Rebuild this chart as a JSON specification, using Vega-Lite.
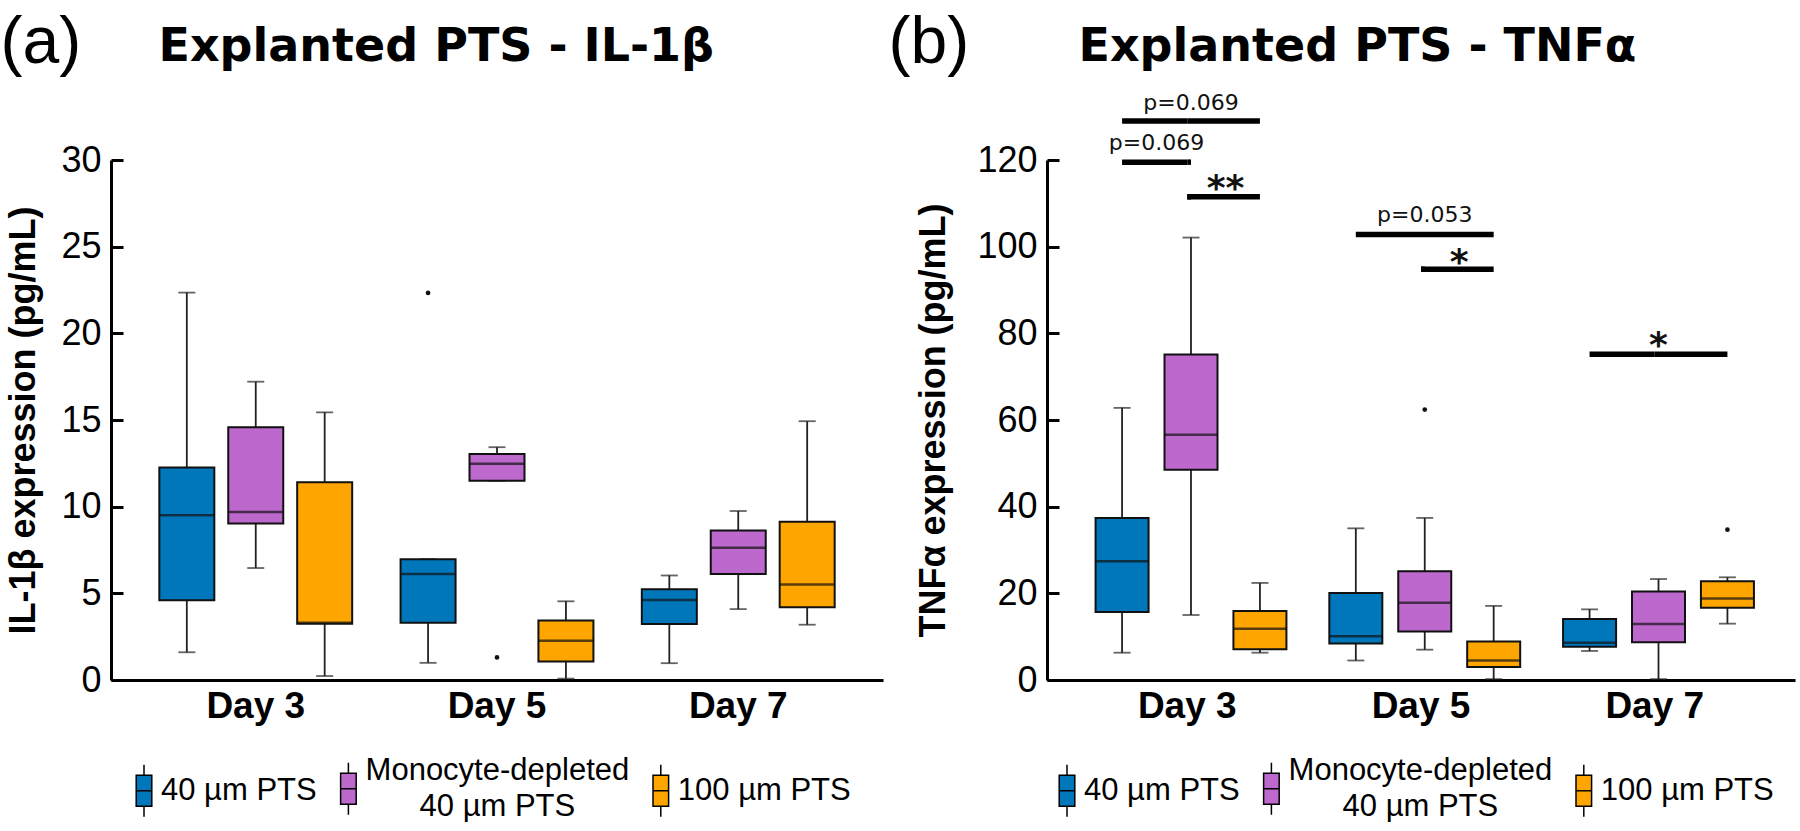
{
  "$schema": "https://vega.github.io/schema/vega-lite/v6.json",
  "background": "white",
  "padding": {"left": 0, "top": 9, "right": 5, "bottom": 0},
  "bounds": "flush",
  "spacing": 164,
  "config": {"view": {"stroke": null}, "font": "Liberation Sans", "axis": {"grid": false, "labelOverlap": false}},
  "resolve": {"scale": {"fill": "independent"}, "legend": {"fill": "independent"}},
  "datasets": {
    "boxA": [
      {"day": "Day 3", "group": "40 µm PTS", "lo": 1.6, "q1": 4.6, "med": 9.5, "q3": 12.26, "hi": 22.35},
      {"day": "Day 3", "group": "Monocyte-depleted 40 µm PTS", "lo": 6.46, "q1": 9.03, "med": 9.69, "q3": 14.58, "hi": 17.21},
      {"day": "Day 3", "group": "100 µm PTS", "lo": 0.23, "q1": 3.25, "med": 3.3, "q3": 11.41, "hi": 15.44},
      {"day": "Day 5", "group": "40 µm PTS", "lo": 0.99, "q1": 3.31, "med": 6.11, "q3": 6.97, "hi": 6.97},
      {"day": "Day 5", "group": "Monocyte-depleted 40 µm PTS", "lo": 11.49, "q1": 11.49, "med": 12.48, "q3": 13.04, "hi": 13.43},
      {"day": "Day 5", "group": "100 µm PTS", "lo": 0.08, "q1": 1.07, "med": 2.26, "q3": 3.43, "hi": 4.54},
      {"day": "Day 7", "group": "40 µm PTS", "lo": 0.97, "q1": 3.23, "med": 4.61, "q3": 5.24, "hi": 6.03},
      {"day": "Day 7", "group": "Monocyte-depleted 40 µm PTS", "lo": 4.09, "q1": 6.11, "med": 7.63, "q3": 8.62, "hi": 9.75},
      {"day": "Day 7", "group": "100 µm PTS", "lo": 3.19, "q1": 4.19, "med": 5.51, "q3": 9.13, "hi": 14.93}
    ],
    "outA": [
      {"day": "Day 5", "group": "40 µm PTS", "value": 22.33},
      {"day": "Day 5", "group": "Monocyte-depleted 40 µm PTS", "value": 1.3}
    ],
    "boxB": [
      {"day": "Day 3", "group": "40 µm PTS", "lo": 6.3, "q1": 15.7, "med": 27.4, "q3": 37.4, "hi": 62.8},
      {"day": "Day 3", "group": "Monocyte-depleted 40 µm PTS", "lo": 15.0, "q1": 48.5, "med": 56.6, "q3": 75.1, "hi": 102.1},
      {"day": "Day 3", "group": "100 µm PTS", "lo": 6.3, "q1": 7.1, "med": 11.8, "q3": 15.9, "hi": 22.4},
      {"day": "Day 5", "group": "40 µm PTS", "lo": 4.5, "q1": 8.4, "med": 10.1, "q3": 20.1, "hi": 35.0},
      {"day": "Day 5", "group": "Monocyte-depleted 40 µm PTS", "lo": 7.0, "q1": 11.2, "med": 17.8, "q3": 25.1, "hi": 37.4},
      {"day": "Day 5", "group": "100 µm PTS", "lo": 0.2, "q1": 3.0, "med": 4.5, "q3": 8.9, "hi": 17.1},
      {"day": "Day 7", "group": "40 µm PTS", "lo": 6.7, "q1": 7.7, "med": 8.6, "q3": 14.1, "hi": 16.3},
      {"day": "Day 7", "group": "Monocyte-depleted 40 µm PTS", "lo": 0.2, "q1": 8.7, "med": 12.9, "q3": 20.4, "hi": 23.3},
      {"day": "Day 7", "group": "100 µm PTS", "lo": 13.0, "q1": 16.7, "med": 18.8, "q3": 22.8, "hi": 23.7}
    ],
    "outB": [
      {"day": "Day 5", "group": "Monocyte-depleted 40 µm PTS", "value": 62.4},
      {"day": "Day 7", "group": "100 µm PTS", "value": 34.7}
    ],
    "annB": [
      {"day": "Day 3", "from": "40 µm PTS", "to": "100 µm PTS", "yv": 129.0, "label": "p=0.069", "pos": "Monocyte-depleted 40 µm PTS", "ty": 131.6, "kind": "p"},
      {"day": "Day 3", "from": "40 µm PTS", "to": "Monocyte-depleted 40 µm PTS", "yv": 119.5, "label": "p=0.069", "pos": "40 vs MD", "ty": 122.3, "kind": "p"},
      {"day": "Day 3", "from": "Monocyte-depleted 40 µm PTS", "to": "100 µm PTS", "yv": 111.5, "label": "**", "pos": "MD vs 100", "ty": 110.8, "kind": "star"},
      {"day": "Day 5", "from": "40 µm PTS", "to": "100 µm PTS", "yv": 102.8, "label": "p=0.053", "pos": "Monocyte-depleted 40 µm PTS", "ty": 105.8, "kind": "p"},
      {"day": "Day 5", "from": "Monocyte-depleted 40 µm PTS", "to": "100 µm PTS", "yv": 94.8, "label": "*", "pos": "MD vs 100", "ty": 93.8, "kind": "star"},
      {"day": "Day 7", "from": "40 µm PTS", "to": "100 µm PTS", "yv": 75.2, "label": "*", "pos": "Monocyte-depleted 40 µm PTS", "ty": 74.5, "kind": "star"}
    ]
  },
  "hconcat": [
    {
      "width": 772,
      "height": 520,
      "layer": [
        {
          "data": {"name": "boxA"},
          "mark": {"type": "rule", "stroke": "#222", "strokeWidth": 1.8},
          "encoding": {
            "x": {"field": "day", "type": "nominal", "scale": {"paddingInner": 0, "paddingOuter": 0.1},
              "axis": {"orient": "bottom", "title": null, "ticks": false, "domainColor": "black", "domainWidth": 3, "labelFont": "Liberation Sans", "labelFontSize": 37, "labelFontWeight": "bold", "labelColor": "black", "labelPadding": 8, "labelAngle": 0}},
            "xOffset": {"field": "group", "type": "nominal", "scale": {"domain": ["40 µm PTS", "40 vs MD", "Monocyte-depleted 40 µm PTS", "MD vs 100", "100 µm PTS"], "paddingInner": 0, "paddingOuter": 1.5}},
            "y": {"field": "lo", "type": "quantitative", "scale": {"domain": [0, 30], "nice": false},
              "axis": {"orient": "left", "title": "IL-1β expression (pg/mL)", "values": [0, 5, 10, 15, 20, 25, 30], "domainColor": "black", "domainWidth": 3, "tickColor": "black", "tickWidth": 3, "tickSize": -12, "labelPadding": 22, "labelFont": "Liberation Sans", "labelFontSize": 36, "labelColor": "black", "titleFont": "Liberation Sans", "titleFontSize": 36, "titleFontWeight": "bold", "titleColor": "black", "titlePadding": 18}},
            "y2": {"field": "hi"}
          }
        },
        {
          "data": {"name": "boxA"},
          "mark": {"type": "tick", "orient": "horizontal", "color": "#222", "size": 17, "thickness": 1.8},
          "encoding": {
            "x": {"field": "day", "type": "nominal", "scale": {"paddingInner": 0, "paddingOuter": 0.1}, "axis": null},
            "xOffset": {"field": "group", "type": "nominal", "scale": {"domain": ["40 µm PTS", "40 vs MD", "Monocyte-depleted 40 µm PTS", "MD vs 100", "100 µm PTS"], "paddingInner": 0, "paddingOuter": 1.5}},
            "y": {"field": "lo", "type": "quantitative", "scale": {"domain": [0, 30], "nice": false}, "axis": null}
          }
        },
        {
          "data": {"name": "boxA"},
          "mark": {"type": "tick", "orient": "horizontal", "color": "#222", "size": 17, "thickness": 1.8},
          "encoding": {
            "x": {"field": "day", "type": "nominal", "scale": {"paddingInner": 0, "paddingOuter": 0.1}, "axis": null},
            "xOffset": {"field": "group", "type": "nominal", "scale": {"domain": ["40 µm PTS", "40 vs MD", "Monocyte-depleted 40 µm PTS", "MD vs 100", "100 µm PTS"], "paddingInner": 0, "paddingOuter": 1.5}},
            "y": {"field": "hi", "type": "quantitative", "scale": {"domain": [0, 30], "nice": false}, "axis": null}
          }
        },
        {
          "data": {"name": "boxA"},
          "mark": {"type": "bar", "width": 55, "stroke": "#111", "strokeWidth": 2},
          "encoding": {
            "x": {"field": "day", "type": "nominal", "scale": {"paddingInner": 0, "paddingOuter": 0.1},
              "axis": {"orient": "top", "title": "Explanted PTS - IL-1β", "labels": false, "ticks": false, "domain": false, "titleX": 47, "titleY": -100, "titleAlign": "left", "titleBaseline": "alphabetic", "titleFont": "DejaVu Sans", "titleFontSize": 46, "titleFontWeight": "bold", "titleColor": "black"}},
            "xOffset": {"field": "group", "type": "nominal", "scale": {"domain": ["40 µm PTS", "40 vs MD", "Monocyte-depleted 40 µm PTS", "MD vs 100", "100 µm PTS"], "paddingInner": 0, "paddingOuter": 1.5}},
            "y": {"field": "q1", "type": "quantitative", "scale": {"domain": [0, 30], "nice": false},
              "axis": {"orient": "right", "title": "(a)", "labels": false, "ticks": false, "domain": false, "titleAngle": 0, "titleX": -883, "titleY": -98, "titleAlign": "left", "titleBaseline": "alphabetic", "titleFont": "Liberation Sans", "titleFontSize": 66, "titleFontWeight": "normal", "titleColor": "black"}},
            "y2": {"field": "q3"},
            "fill": {"field": "group", "type": "nominal",
              "scale": {"domain": ["40 µm PTS", "Monocyte-depleted 40 µm PTS", "100 µm PTS"], "range": ["#0077bb", "#bd68cd", "#ffa500"]},
              "legend": {"orient": "none", "legendX": 17.5, "legendY": 613, "direction": "horizontal", "title": null, "padding": 0,
                "symbolType": "M-1,-2H1V2H-1Z M0,-2V-3.33 M0,2V3.33 M-1,0H1", "symbolSize": 243, "symbolStrokeColor": "black", "symbolStrokeWidth": 1.5, "symbolOpacity": 1,
                "labelFont": "Liberation Sans", "labelFontSize": 31, "labelColor": "black", "labelOffset": 1.5, "columnPadding": 15.4, "labelLimit": 0, "labelBaseline": "middle",
                "labelExpr": "datum.label == 'Monocyte-depleted 40 µm PTS' ? ['Monocyte-depleted', '40 µm PTS'] : datum.label",
                "encode": {"labels": {"update": {
                  "lineHeight": {"value": 36},
                  "dy": {"signal": "datum.value == 'Monocyte-depleted 40 µm PTS' ? -18 : 0"},
                  "align": {"signal": "datum.value == 'Monocyte-depleted 40 µm PTS' ? 'center' : 'left'"},
                  "dx": {"signal": "datum.value == 'Monocyte-depleted 40 µm PTS' ? 132 : 0"}}}}}}
          }
        },
        {
          "data": {"name": "boxA"},
          "mark": {"type": "tick", "orient": "horizontal", "color": "#111", "size": 55, "thickness": 2.5},
          "encoding": {
            "x": {"field": "day", "type": "nominal", "scale": {"paddingInner": 0, "paddingOuter": 0.1}, "axis": null},
            "xOffset": {"field": "group", "type": "nominal", "scale": {"domain": ["40 µm PTS", "40 vs MD", "Monocyte-depleted 40 µm PTS", "MD vs 100", "100 µm PTS"], "paddingInner": 0, "paddingOuter": 1.5}},
            "y": {"field": "med", "type": "quantitative", "scale": {"domain": [0, 30], "nice": false}, "axis": null}
          }
        },
        {
          "data": {"name": "outA"},
          "mark": {"type": "point", "filled": true, "color": "#111", "size": 22, "opacity": 1},
          "encoding": {
            "x": {"field": "day", "type": "nominal", "scale": {"paddingInner": 0, "paddingOuter": 0.1}, "axis": null},
            "xOffset": {"field": "group", "type": "nominal", "scale": {"domain": ["40 µm PTS", "40 vs MD", "Monocyte-depleted 40 µm PTS", "MD vs 100", "100 µm PTS"], "paddingInner": 0, "paddingOuter": 1.5}},
            "y": {"field": "value", "type": "quantitative", "scale": {"domain": [0, 30], "nice": false}, "axis": null}
          }
        }
      ]
    },
    {
      "width": 748,
      "height": 520,
      "layer": [
        {
          "data": {"name": "boxB"},
          "mark": {"type": "rule", "stroke": "#222", "strokeWidth": 1.8},
          "encoding": {
            "x": {"field": "day", "type": "nominal", "scale": {"paddingInner": 0, "paddingOuter": 0.1},
              "axis": {"orient": "bottom", "title": null, "ticks": false, "domainColor": "black", "domainWidth": 3, "labelFont": "Liberation Sans", "labelFontSize": 37, "labelFontWeight": "bold", "labelColor": "black", "labelPadding": 8, "labelAngle": 0}},
            "xOffset": {"field": "group", "type": "nominal", "scale": {"domain": ["40 µm PTS", "40 vs MD", "Monocyte-depleted 40 µm PTS", "MD vs 100", "100 µm PTS"], "paddingInner": 0, "paddingOuter": 1.5}},
            "y": {"field": "lo", "type": "quantitative", "scale": {"domain": [0, 120], "nice": false},
              "axis": {"orient": "left", "title": "TNFα expression (pg/mL)", "values": [0, 20, 40, 60, 80, 100, 120], "domainColor": "black", "domainWidth": 3, "tickColor": "black", "tickWidth": 3, "tickSize": -12, "labelPadding": 22, "labelFont": "Liberation Sans", "labelFontSize": 36, "labelColor": "black", "titleFont": "Liberation Sans", "titleFontSize": 36, "titleFontWeight": "bold", "titleColor": "black", "titlePadding": 24}},
            "y2": {"field": "hi"}
          }
        },
        {
          "data": {"name": "boxB"},
          "mark": {"type": "tick", "orient": "horizontal", "color": "#222", "size": 17, "thickness": 1.8},
          "encoding": {
            "x": {"field": "day", "type": "nominal", "scale": {"paddingInner": 0, "paddingOuter": 0.1}, "axis": null},
            "xOffset": {"field": "group", "type": "nominal", "scale": {"domain": ["40 µm PTS", "40 vs MD", "Monocyte-depleted 40 µm PTS", "MD vs 100", "100 µm PTS"], "paddingInner": 0, "paddingOuter": 1.5}},
            "y": {"field": "lo", "type": "quantitative", "scale": {"domain": [0, 120], "nice": false}, "axis": null}
          }
        },
        {
          "data": {"name": "boxB"},
          "mark": {"type": "tick", "orient": "horizontal", "color": "#222", "size": 17, "thickness": 1.8},
          "encoding": {
            "x": {"field": "day", "type": "nominal", "scale": {"paddingInner": 0, "paddingOuter": 0.1}, "axis": null},
            "xOffset": {"field": "group", "type": "nominal", "scale": {"domain": ["40 µm PTS", "40 vs MD", "Monocyte-depleted 40 µm PTS", "MD vs 100", "100 µm PTS"], "paddingInner": 0, "paddingOuter": 1.5}},
            "y": {"field": "hi", "type": "quantitative", "scale": {"domain": [0, 120], "nice": false}, "axis": null}
          }
        },
        {
          "data": {"name": "boxB"},
          "mark": {"type": "bar", "width": 53, "stroke": "#111", "strokeWidth": 2},
          "encoding": {
            "x": {"field": "day", "type": "nominal", "scale": {"paddingInner": 0, "paddingOuter": 0.1},
              "axis": {"orient": "top", "title": "Explanted PTS - TNFα", "labels": false, "ticks": false, "domain": false, "titleX": 31, "titleY": -100, "titleAlign": "left", "titleBaseline": "alphabetic", "titleFont": "DejaVu Sans", "titleFontSize": 46, "titleFontWeight": "bold", "titleColor": "black"}},
            "xOffset": {"field": "group", "type": "nominal", "scale": {"domain": ["40 µm PTS", "40 vs MD", "Monocyte-depleted 40 µm PTS", "MD vs 100", "100 µm PTS"], "paddingInner": 0, "paddingOuter": 1.5}},
            "y": {"field": "q1", "type": "quantitative", "scale": {"domain": [0, 120], "nice": false},
              "axis": {"orient": "right", "title": "(b)", "labels": false, "ticks": false, "domain": false, "titleAngle": 0, "titleX": -907, "titleY": -98, "titleAlign": "left", "titleBaseline": "alphabetic", "titleFont": "Liberation Sans", "titleFontSize": 66, "titleFontWeight": "normal", "titleColor": "black"}},
            "y2": {"field": "q3"},
            "fill": {"field": "group", "type": "nominal",
              "scale": {"domain": ["40 µm PTS", "Monocyte-depleted 40 µm PTS", "100 µm PTS"], "range": ["#0077bb", "#bd68cd", "#ffa500"]},
              "legend": {"orient": "none", "legendX": 4.5, "legendY": 613, "direction": "horizontal", "title": null, "padding": 0,
                "symbolType": "M-1,-2H1V2H-1Z M0,-2V-3.33 M0,2V3.33 M-1,0H1", "symbolSize": 243, "symbolStrokeColor": "black", "symbolStrokeWidth": 1.5, "symbolOpacity": 1,
                "labelFont": "Liberation Sans", "labelFontSize": 31, "labelColor": "black", "labelOffset": 1.5, "columnPadding": 15.4, "labelLimit": 0, "labelBaseline": "middle",
                "labelExpr": "datum.label == 'Monocyte-depleted 40 µm PTS' ? ['Monocyte-depleted', '40 µm PTS'] : datum.label",
                "encode": {"labels": {"update": {
                  "lineHeight": {"value": 36},
                  "dy": {"signal": "datum.value == 'Monocyte-depleted 40 µm PTS' ? -18 : 0"},
                  "align": {"signal": "datum.value == 'Monocyte-depleted 40 µm PTS' ? 'center' : 'left'"},
                  "dx": {"signal": "datum.value == 'Monocyte-depleted 40 µm PTS' ? 132 : 0"}}}}}}
          }
        },
        {
          "data": {"name": "boxB"},
          "mark": {"type": "tick", "orient": "horizontal", "color": "#111", "size": 53, "thickness": 2.5},
          "encoding": {
            "x": {"field": "day", "type": "nominal", "scale": {"paddingInner": 0, "paddingOuter": 0.1}, "axis": null},
            "xOffset": {"field": "group", "type": "nominal", "scale": {"domain": ["40 µm PTS", "40 vs MD", "Monocyte-depleted 40 µm PTS", "MD vs 100", "100 µm PTS"], "paddingInner": 0, "paddingOuter": 1.5}},
            "y": {"field": "med", "type": "quantitative", "scale": {"domain": [0, 120], "nice": false}, "axis": null}
          }
        },
        {
          "data": {"name": "outB"},
          "mark": {"type": "point", "filled": true, "color": "#111", "size": 22, "opacity": 1},
          "encoding": {
            "x": {"field": "day", "type": "nominal", "scale": {"paddingInner": 0, "paddingOuter": 0.1}, "axis": null},
            "xOffset": {"field": "group", "type": "nominal", "scale": {"domain": ["40 µm PTS", "40 vs MD", "Monocyte-depleted 40 µm PTS", "MD vs 100", "100 µm PTS"], "paddingInner": 0, "paddingOuter": 1.5}},
            "y": {"field": "value", "type": "quantitative", "scale": {"domain": [0, 120], "nice": false}, "axis": null}
          }
        },
        {
          "data": {"name": "annB"},
          "mark": {"type": "rule", "stroke": "black", "strokeWidth": 5.5},
          "encoding": {
            "x": {"field": "day", "type": "nominal", "scale": {"paddingInner": 0, "paddingOuter": 0.1}, "axis": null},
            "xOffset": {"field": "from", "type": "nominal", "scale": {"domain": ["40 µm PTS", "40 vs MD", "Monocyte-depleted 40 µm PTS", "MD vs 100", "100 µm PTS"], "paddingInner": 0, "paddingOuter": 1.5}},
            "x2": {"field": "day"},
            "y": {"field": "yv", "type": "quantitative", "scale": {"domain": [0, 120], "nice": false}, "axis": null}
          }
        },
        {
          "data": {"name": "annB"},
          "mark": {"type": "rule", "stroke": "black", "strokeWidth": 5.5},
          "encoding": {
            "x": {"field": "day", "type": "nominal", "scale": {"paddingInner": 0, "paddingOuter": 0.1}, "axis": null},
            "xOffset": {"field": "to", "type": "nominal", "scale": {"domain": ["40 µm PTS", "40 vs MD", "Monocyte-depleted 40 µm PTS", "MD vs 100", "100 µm PTS"], "paddingInner": 0, "paddingOuter": 1.5}},
            "x2": {"field": "day"},
            "y": {"field": "yv", "type": "quantitative", "scale": {"domain": [0, 120], "nice": false}, "axis": null}
          }
        },
        {
          "data": {"name": "annB"},
          "transform": [{"filter": "datum.kind == 'p'"}],
          "mark": {"type": "text", "font": "DejaVu Sans", "fontSize": 22, "color": "#111", "baseline": "alphabetic", "align": "center"},
          "encoding": {
            "x": {"field": "day", "type": "nominal", "scale": {"paddingInner": 0, "paddingOuter": 0.1}, "axis": null},
            "xOffset": {"field": "pos", "type": "nominal", "scale": {"domain": ["40 µm PTS", "40 vs MD", "Monocyte-depleted 40 µm PTS", "MD vs 100", "100 µm PTS"], "paddingInner": 0, "paddingOuter": 1.5}},
            "y": {"field": "ty", "type": "quantitative", "scale": {"domain": [0, 120], "nice": false}, "axis": null},
            "text": {"field": "label"}
          }
        },
        {
          "data": {"name": "annB"},
          "transform": [{"filter": "datum.kind == 'star'"}],
          "mark": {"type": "text", "font": "DejaVu Sans", "fontSize": 36, "fontWeight": "bold", "color": "#111", "baseline": "alphabetic", "align": "center"},
          "encoding": {
            "x": {"field": "day", "type": "nominal", "scale": {"paddingInner": 0, "paddingOuter": 0.1}, "axis": null},
            "xOffset": {"field": "pos", "type": "nominal", "scale": {"domain": ["40 µm PTS", "40 vs MD", "Monocyte-depleted 40 µm PTS", "MD vs 100", "100 µm PTS"], "paddingInner": 0, "paddingOuter": 1.5}},
            "y": {"field": "ty", "type": "quantitative", "scale": {"domain": [0, 120], "nice": false}, "axis": null},
            "text": {"field": "label"}
          }
        }
      ]
    }
  ]
}
